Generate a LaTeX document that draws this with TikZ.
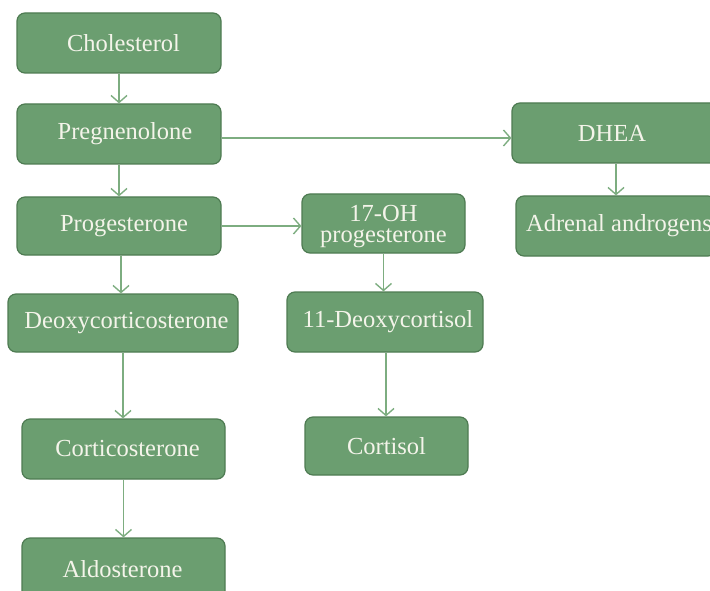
\documentclass[tikz,border=0pt]{standalone}
\usepackage{fontspec}
\setmainfont{Liberation Serif}
\usetikzlibrary{arrows.meta}
\definecolor{boxfill}{HTML}{6B9E70}
\definecolor{boxedge}{HTML}{4E7B52}
\definecolor{arrcol}{HTML}{7DAD80}
\definecolor{txtcol}{HTML}{F4F4EA}
\tikzset{
  box/.style={draw=boxedge, fill=boxfill, line width=1.2pt, rounded corners=8pt,
    inner sep=0pt, text=txtcol, font=\fontsize{24.5}{20.5}\selectfont, align=center},
  arr/.style={draw=arrcol, line width=1.4pt, -{Straight Barb[length=7pt,width=16pt]}}
}
\begin{document}
\begin{tikzpicture}[x=1pt,y=-1pt]
\useasboundingbox (0,0) rectangle (710,591);
\clip (0,0) rectangle (710,591);
\node[box, minimum width=204, minimum height=60] (chol) at (119,43) {\hspace*{9pt}Cholesterol};
\node[box, minimum width=204, minimum height=60] (preg) at (119,134) {\hspace*{12pt}Pregnenolone};
\node[box, minimum width=204, minimum height=58] (prog) at (119,226) {\hspace*{10pt}Progesterone};
\node[box, minimum width=230, minimum height=58] (doc) at (123,323) {\hspace*{7pt}Deoxycorticosterone};
\node[box, minimum width=203, minimum height=60] (cort) at (123.5,449) {\hspace*{8pt}Corticosterone};
\node[box, minimum width=203, minimum height=62] (aldo) at (123.5,569) {\hspace*{-2pt}Aldosterone};
\node[box, minimum width=163, minimum height=59] (oh) at (383.5,223.5) {\rule{0pt}{22pt}17-OH\\progesterone};
\node[box, minimum width=196, minimum height=60] (deox) at (385,322) {\hspace*{6pt}11-Deoxycortisol};
\node[box, minimum width=163, minimum height=58] (cortisol) at (386.5,446) {Cortisol};
\node[box, minimum width=208, minimum height=60] (dhea) at (616,133) {\hspace*{-8pt}DHEA};
\node[box, minimum width=200, minimum height=60] (andr) at (616,226) {\hspace*{6pt}Adrenal androgens};
\draw[arr] (chol.south) -- (preg.north);
\draw[arr] (preg.south) -- (prog.north);
\draw[arr] ([xshift=2pt]prog.south) -- ([xshift=2pt]prog.south |- doc.north);
\draw[arr] (doc.south) -- (doc.south |- cort.north);
\draw[arr] (cort.south) -- (aldo.north);
\draw[arr] (oh.south) -- (oh.south |- deox.north);
\draw[arr] ([xshift=1pt]deox.south) -- ([xshift=1pt]deox.south |- cortisol.north);
\draw[arr] (dhea.south) -- (andr.north);
\draw[arr] ([yshift=-4pt]preg.east) -- ([yshift=-4pt]preg.east -| dhea.west);
\draw[arr] (prog.east) -- (prog.east -| oh.west);
\end{tikzpicture}
\end{document}
